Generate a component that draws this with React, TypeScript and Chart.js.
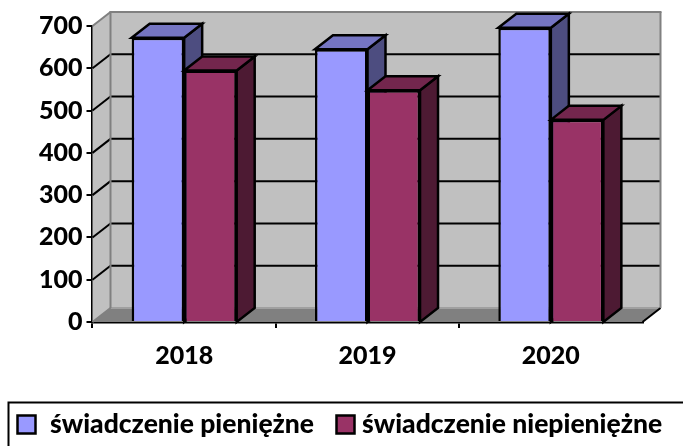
import React, { useEffect, useRef } from "react";
import { Chart, registerables } from "chart.js";

Chart.register(...registerables);

const categories = ["2018", "2019", "2020"];
const seriesNames = ["świadczenie pieniężne", "świadczenie niepieniężne"];
const cashValues = [672, 645, 696];
const nonCashValues = [595, 548, 478];
const yTicks = [0, 100, 200, 300, 400, 500, 600, 700];

const FONT = "Lato, Carlito, sans-serif";
const DEPTH_X = 18;
const DEPTH_Y = 14;
const LINE = 2.5;
const faces = [
  { front: "#9999ff", top: "#7575c2", side: "#4d4d80", swatchX: 17.5, textX: 50 },
  { front: "#993366", top: "#73264d", side: "#4d1a33", swatchX: 336.5, textX: 362 },
];

const poly = (ctx: CanvasRenderingContext2D, pts: number[][], fill?: string, stroke?: string, width = LINE) => {
  ctx.beginPath();
  pts.forEach(([x, y], i) => (i ? ctx.lineTo(x, y) : ctx.moveTo(x, y)));
  ctx.closePath();
  if (fill) {
    ctx.fillStyle = fill;
    ctx.fill();
  }
  if (stroke) {
    ctx.strokeStyle = stroke;
    ctx.lineWidth = width;
    ctx.lineJoin = "miter";
    ctx.stroke();
  }
};

const line = (ctx: CanvasRenderingContext2D, x1: number, y1: number, x2: number, y2: number, color: string, width = 2) => {
  ctx.beginPath();
  ctx.moveTo(x1, y1);
  ctx.lineTo(x2, y2);
  ctx.strokeStyle = color;
  ctx.lineWidth = width;
  ctx.stroke();
};

const threeD = {
  id: "threeD",
  beforeDatasetsDraw(chart: any) {
    const { ctx, chartArea: a, scales } = chart;
    const dx = DEPTH_X;
    const dy = DEPTH_Y;
    ctx.save();
    // side wall and back wall
    poly(ctx, [[a.left, a.top], [a.left + dx, a.top - dy], [a.left + dx, a.bottom - dy], [a.left, a.bottom]], "#c0c0c0");
    poly(ctx, [[a.left + dx, a.top - dy], [a.right + dx, a.top - dy], [a.right + dx, a.bottom - dy], [a.left + dx, a.bottom - dy]], "#c0c0c0");
    // gridlines on the walls
    scales.y.ticks.forEach((t: any) => {
      if (t.value === 0 || t.value === 700) return;
      const y = scales.y.getPixelForValue(t.value);
      line(ctx, a.left, y, a.left + dx, y - dy, "#000");
      line(ctx, a.left + dx, y - dy, a.right + dx, y - dy, "#000");
    });
    // floor
    poly(ctx, [[a.left, a.bottom], [a.left + dx, a.bottom - dy], [a.right + dx, a.bottom - dy], [a.right, a.bottom]], "#808080");
    line(ctx, a.left + dx, a.bottom - dy, a.right + dx, a.bottom - dy, "#a0a0a0");
    line(ctx, a.left, a.bottom, a.left + dx, a.bottom - dy, "#808080");
    line(ctx, a.right, a.bottom, a.right + dx, a.bottom - dy, "#000");
    // wall frame
    line(ctx, a.left, a.top, a.left + dx, a.top - dy, "#808080");
    line(ctx, a.left + dx, a.top - dy, a.left + dx, a.bottom - dy, "#808080");
    line(ctx, a.left + dx - 1, a.top - dy, a.right + dx + 1, a.top - dy, "#808080");
    line(ctx, a.right + dx, a.top - dy, a.right + dx, a.bottom - dy, "#808080");
    // bars, back to front, so that a later bar hides the side of an earlier one
    categories.forEach((_, c) => {
      chart.data.datasets.forEach((_d: any, s: number) => {
        const bar = chart.getDatasetMeta(s).data[c];
        const l = bar.x - bar.width / 2;
        const r = bar.x + bar.width / 2;
        const f = faces[s];
        poly(ctx, [[r, bar.y], [r + dx, bar.y - dy], [r + dx, a.bottom - dy], [r, a.bottom]], f.side, "#000");
        poly(ctx, [[l, bar.y], [l + dx, bar.y - dy], [r + dx, bar.y - dy], [r, bar.y]], f.top, "#000");
        bar.draw(ctx);
      });
    });
    ctx.restore();
  },
  beforeDatasetDraw() {
    return false;
  },
  afterDraw(chart: any) {
    const { ctx } = chart;
    ctx.save();
    // legend frame, running off the page on the right and at the bottom
    ctx.strokeStyle = "#000";
    ctx.lineWidth = 2;
    ctx.beginPath();
    ctx.moveTo(8.5, 446);
    ctx.lineTo(8.5, 402.5);
    ctx.lineTo(683, 402.5);
    ctx.stroke();
    chart.data.datasets.forEach((d: any, s: number) => {
      const f = faces[s];
      ctx.fillStyle = f.front;
      ctx.fillRect(f.swatchX, 415.5, 18, 18);
      ctx.strokeStyle = "#000";
      ctx.lineWidth = 2.5;
      ctx.strokeRect(f.swatchX, 415.5, 18, 18);
      ctx.fillStyle = "#000";
      ctx.font = `900 26.5px ${FONT}`;
      ctx.textBaseline = "alphabetic";
      ctx.fillText(d.label, f.textX, 433);
    });
    ctx.restore();
  },
};

export default function App() {
  const ref = useRef<HTMLCanvasElement>(null);
  useEffect(() => {
    const chart = new Chart(ref.current!, {
      type: "bar",
      data: {
        labels: categories,
        datasets: [
          { label: seriesNames[0], data: cashValues, backgroundColor: faces[0].front, borderColor: "#000", borderWidth: LINE },
          { label: seriesNames[1], data: nonCashValues, backgroundColor: faces[1].front, borderColor: "#000", borderWidth: LINE },
        ],
      },
      options: {
        responsive: false,
        animation: false,
        categoryPercentage: 0.573,
        barPercentage: 1,
        layout: { padding: { left: 0, right: 40.5, top: 26, bottom: 0 } },
        plugins: { legend: { display: false }, title: { display: false }, tooltip: { enabled: false } },
        scales: {
          x: {
            offset: true,
            afterFit: (s: any) => {
              s.height = 124;
            },
            grid: {
              offset: true,
              drawOnChartArea: false,
              drawTicks: true,
              tickLength: 6,
              lineWidth: 2,
              tickColor: (c: any) => (c.index === undefined ? "transparent" : "#000"),
            },
            border: { color: "#000", width: 2.5 },
            ticks: { color: "#000", font: { family: FONT, size: 25, weight: "900" }, padding: 13, maxRotation: 0 },
          },
          y: {
            min: 0,
            max: 700,
            afterFit: (s: any) => {
              s.width = 92.5;
            },
            afterBuildTicks: (s: any) => {
              s.ticks = yTicks.map((value) => ({ value }));
            },
            grid: { drawOnChartArea: false, drawTicks: true, tickLength: 6, lineWidth: 2, tickColor: "#000" },
            border: { color: "#000", width: 2.5 },
            ticks: { color: "#000", font: { family: FONT, size: 25, weight: "900" }, padding: 4 },
          },
        },
      },
      plugins: [threeD],
    } as any);
    return () => chart.destroy();
  }, []);
  return (
    <div style={{ position: "absolute", left: 0, top: 0, width: 683, height: 446, background: "#fff", overflow: "hidden" }}>
      <canvas ref={ref} width={683} height={446} style={{ display: "block" }} />
    </div>
  );
}
